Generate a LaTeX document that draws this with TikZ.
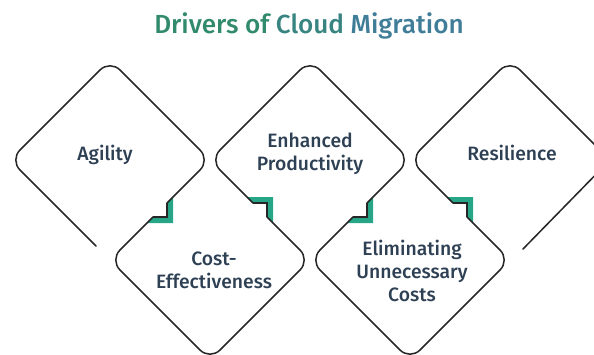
\documentclass[tikz,border=0pt]{standalone}
\usepackage{fontspec}
\setmainfont{Fira Sans}[UprightFont=* Medium]
\definecolor{sqsqsq}{rgb}{0.15,0.15,0.15}
\definecolor{qqzzcc}{rgb}{0.15,0.65,0.53}
\definecolor{ttuuzz}{rgb}{0.18,0.25,0.33}
\definecolor{ttzzqq}{rgb}{0.19,0.54,0.42}
\definecolor{uuxxzz}{rgb}{0.25,0.49,0.60}

\begin{document}
\begin{tikzpicture}[x=0.03cm,y=0.03cm]
    \useasboundingbox (0,0) rectangle (594,354);
    \clip(0,0) rectangle (594,354);
    \fill[line width=0pt,color=qqzzcc,fill=qqzzcc] (167,151) -- (167,137) -- (153,137) -- (147,131) -- (173,131) -- (173,157) -- cycle;
    \fill[line width=0pt,color=qqzzcc,fill=qqzzcc] (253,151) -- (267,151) -- (267,137) -- (273,131) -- (273,157) -- (247,157) -- cycle;
    \fill[line width=0pt,color=qqzzcc,fill=qqzzcc] (367,151) -- (367,137) -- (353,137) -- (347,131) -- (373,131) -- (373,157) -- cycle;
    \fill[line width=0pt,color=qqzzcc,fill=qqzzcc] (453,151) -- (467,151) -- (467,137) -- (473,131) -- (473,157) -- (447,157) -- cycle;
    \draw [line width=1.3pt,color=sqsqsq,line cap=round,rounded corners=12pt] (96,108)-- (10,194)-- (110,294)-- (210,194)-- (167,151);
    \draw [line width=1.3pt,color=sqsqsq] (167,151)-- (167,137)-- (153,137);
    \draw [line width=1.3pt,color=sqsqsq,line cap=round,rounded corners=12pt] (153,137)-- (110,94)-- (210,-6)-- (310,94)-- (267,137);
    \draw [line width=1.3pt,color=sqsqsq] (267,137)-- (267,151)-- (253,151);
    \draw [line width=1.3pt,color=sqsqsq,line cap=round,rounded corners=12pt] (253,151)-- (210,194)-- (310,294)-- (410,194)-- (367,151);
    \draw [line width=1.3pt,color=sqsqsq] (367,151)-- (367,137)-- (353,137);
    \draw [line width=1.3pt,color=sqsqsq,line cap=round,rounded corners=12pt] (353,137)-- (310,94)-- (410,-6)-- (510,94)-- (467,137);
    \draw [line width=1.3pt,color=sqsqsq] (467,137)-- (467,151)-- (453,151);
    \draw [line width=1.3pt,color=sqsqsq,line cap=round,rounded corners=12pt] (453,151)-- (410,194)-- (510,294)-- (610,194)-- (523,105);
    \begin{scriptsize}
        \draw (309,321) node[anchor=base,font=\fontsize{22.3}{26}\selectfont] (title) {\textcolor{ttzzqq}{Drivers of} \textcolor{ttzzqq!55!uuxxzz}{Cloud} \textcolor{uuxxzz}{Migration}};
        \draw[color=ttuuzz] (105,194) node[anchor=base,font=\fontsize{16.5}{19.6}\selectfont] (agility) {Agility};
        \draw[color=ttuuzz] (310,200) node[align=center,font=\fontsize{16.5}{19.6}\selectfont] (productivity) {Enhanced\\Productivity};
        \draw[color=ttuuzz] (512,194) node[anchor=base,font=\fontsize{16.5}{19.6}\selectfont] (resilience) {Resilience};
        \draw[color=ttuuzz] (214,84) node[align=center,font=\fontsize{16.5}{19.6}\selectfont] (cost) {Cost-\\Effectiveness};
        \draw[color=ttuuzz] (412,83) node[align=center,font=\fontsize{16.5}{19.6}\selectfont] (unnecessary) {Eliminating\\Unnecessary\\Costs};
    \end{scriptsize}
\end{tikzpicture}
\end{document}
